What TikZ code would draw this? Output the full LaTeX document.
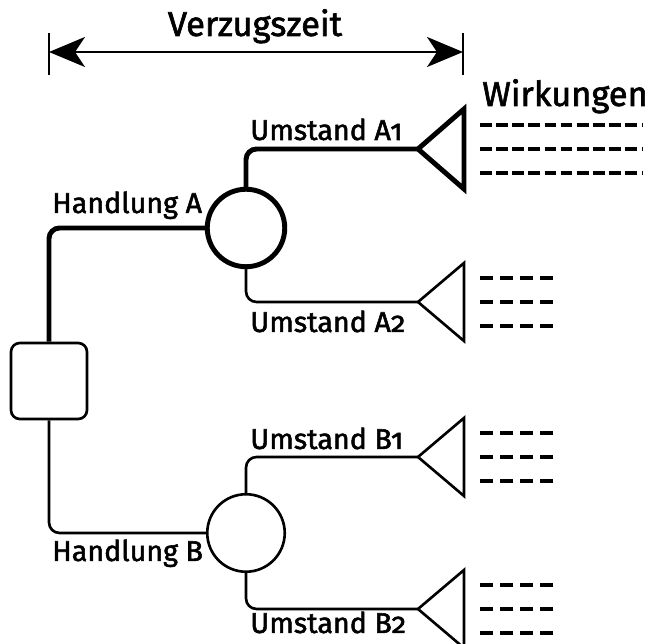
\documentclass[tikz,border=0pt]{standalone}
\usepackage{fontspec}
\setmainfont{Fira Sans}[Numbers=OldStyle, UprightFeatures={FakeBold=1.8}]
\usetikzlibrary{arrows.meta,calc,positioning}
\tikzset{%
	box/.style      = {draw, rectangle, rounded corners=5pt, line width=1.5pt, minimum size=1.52cm},
	knot/.style     = {draw, circle, fill=white, minimum size=1.55cm},
	strong/.style   = {line width=2.8pt},
	weak/.style     = {line width=1.5pt},
	lbl/.style      = {inner sep=0pt, anchor=base west, font=\fontsize{16.3}{19}\selectfont},
	head/.style     = {inner sep=0pt, anchor=base west, font=\fontsize{19.6}{23}\selectfont},
	elbow/.style    = {rounded corners=6pt},
	longdash/.style = {line width=2.8pt, dash pattern=on 6.6pt off 2.6pt},
	shortdash/.style= {line width=1.8pt, dash pattern=on 7.4pt off 4pt},
	delay/.style    = {{Stealth[length=0.72cm,width=0.6cm,inset=0.2cm]}-{Stealth[length=0.72cm,width=0.6cm,inset=0.2cm]}},
}

\begin{document}
\begin{tikzpicture}[x=0.02cm,y=-0.02cm]
	\useasboundingbox (0,0) rectangle (654,644);

	% time span
	\coordinate (t0) at (49,52);
	\coordinate (t1) at (463,52);
	\draw[weak] (t0) ++(0,-19) -- ++(0,42);
	\draw[weak] (t1) ++(0,-19) -- ++(0,42);
	\draw[weak,delay] (t0) -- (t1);
	\node[head,anchor=base] (span) at (255,36) {Verzugszeit};

	% decision, chances and outcomes
	\node[box] (dec) at (49,381) {};
	\node[knot,strong] (hA) at (246,228) {};
	\node[knot,weak] (hB) at (246,533) {};
	\coordinate (uA1) at (418,149);
	\coordinate (uA2) at (418,302);
	\coordinate (uB1) at (418,457);
	\coordinate (uB2) at (418,609);

	\draw[strong,elbow] (dec) |- (hA);
	\draw[weak,elbow] (dec) |- (hB);
	\draw[strong,elbow] (hA) |- (uA1);
	\draw[weak,elbow] (hA) |- (uA2);
	\draw[weak,elbow] (hB) |- (uB1);
	\draw[weak,elbow] (hB) |- (uB2);

	\draw[strong] (uA1) -- ++(46,-40) -- ++(0,80) -- cycle;
	\foreach \u in {uA2,uB1,uB2}
		\draw[weak] (\u) -- ++(46,-39) -- ++(0,78) -- cycle;

	% effects
	\node[head] (eff) at (482,106) {Wirkungen};
	\foreach \dy in {-24,0,24}
		\draw[longdash] ($(uA1)+(62,\dy)$) -- ++(162,0);
	\foreach \u in {uA2,uB1,uB2}
		\foreach \dy in {-24,0,24}
			\draw[shortdash] ($(\u)+(62,\dy)$) -- ++(73,0);

	% labels
	\node[lbl] (lA)  at (52,213) {Handlung A};
	\node[lbl] (lB)  at (52,561) {Handlung B};
	\node[lbl] (lA1) at (250,140) {Umstand A1};
	\node[lbl] (lA2) at (250,332) {Umstand A2};
	\node[lbl] (lB1) at (250,449) {Umstand B1};
	\node[lbl] (lB2) at (250,633) {Umstand B2};
\end{tikzpicture}
\end{document}
